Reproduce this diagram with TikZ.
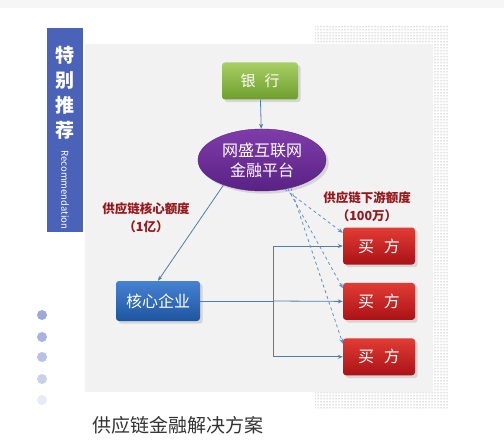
\documentclass[tikz,border=0pt]{standalone}
\usepackage{fontspec}
\setmainfont{Noto Sans CJK SC}
\usetikzlibrary{shapes.geometric, arrows.meta, positioning, patterns, shadows}
\definecolor{tagblue}{RGB}{74, 99, 184}
\definecolor{panelgray}{RGB}{242, 242, 242}
\definecolor{linkblue}{RGB}{79, 127, 168}
\definecolor{dashblue}{RGB}{100, 145, 196}
\definecolor{quotared}{RGB}{150, 24, 28}
\definecolor{banktop}{RGB}{168, 207, 100}
\definecolor{bankbot}{RGB}{110, 158, 46}
\definecolor{plattop}{RGB}{128, 60, 170}
\definecolor{platbot}{RGB}{88, 34, 132}
\definecolor{coretop}{RGB}{70, 130, 210}
\definecolor{corebot}{RGB}{30, 85, 160}
\definecolor{buyertop}{RGB}{226, 60, 52}
\definecolor{buyerbot}{RGB}{170, 18, 22}

\begin{document}
\begin{tikzpicture}[x=1pt, y=-1pt,
    every node/.style={font=\fontsize{15}{19}\selectfont, text=white},
    bankbox/.style={rectangle, rounded corners=3pt, top color=banktop, bottom color=bankbot,
                    minimum width=76pt, minimum height=37pt, drop shadow={opacity=0.25}},
    platform/.style={ellipse, top color=plattop, bottom color=platbot, draw=platbot,
                     minimum width=128pt, minimum height=62pt, align=center, inner sep=0pt,
                     font=\fontsize{16}{20}\selectfont, drop shadow={opacity=0.25}},
    corebox/.style={rectangle, rounded corners=3pt, top color=coretop, bottom color=corebot,
                    minimum width=84pt, minimum height=40pt, font=\fontsize{16}{20}\selectfont, drop shadow={opacity=0.25}},
    buyer/.style={rectangle, rounded corners=3pt, top color=buyertop, bottom color=buyerbot,
                  minimum width=72pt, minimum height=37pt, font=\fontsize{16}{20}\selectfont, drop shadow={opacity=0.25}},
    quota/.style={font=\bfseries\fontsize{12.5}{18}\selectfont, text=quotared, align=center},
    arrow/.style={-{Stealth[length=5pt, width=4pt]}, linkblue, thick},
    dasharrow/.style={-{Stealth[length=5pt, width=4pt]}, dashblue, thick, dashed},
    pagedot/.style={circle, minimum size=10pt, inner sep=0pt}
]
    \useasboundingbox (0,0) rectangle (504,444);
    \fill[white] (0,0) rectangle (504,444);
    \fill[panelgray!70!white] (0,0) rectangle (504,8);
    % dotted backdrop and panel
    \fill[pattern=dots, pattern color=gray] (315,25) rectangle (448,408);
    \fill[panelgray] (85,44) rectangle (433,392);
    % side tag
    \fill[tagblue] (47,28) rectangle (83,232);
    \node[font=\bfseries\fontsize{19}{25}\selectfont, align=center] (tag) at (65,93) {特\\别\\推\\荐};
    \node[font=\fontsize{9.5}{10}\selectfont, rotate=-90] (tagsub) at (65,190) {Recommendation};
    % nodes
    \node[bankbox] (bank) at (260,81) {银\hspace{0.6em}行};
    \node[platform] (plat) at (262,160) {网盛互联网\\金融平台};
    \node[corebox] (core) at (158,301) {核心企业};
    \node[buyer] (b1) at (379,246) {买\hspace{0.6em}方};
    \node[buyer, below=18pt of b1] (b2) {买\hspace{0.6em}方};
    \node[buyer, below=18pt of b2] (b3) {买\hspace{0.6em}方};
    \node[quota] (q1) at (146,218) {供应链核心额度\\（1亿）};
    \node[quota] (q2) at (367,207) {供应链下游额度\\（100万）};
    % connectors
    \coordinate (split) at (273,301);
    \draw[arrow] (bank) -- (plat);
    \draw[arrow] (plat.213) -- (core.north);
    \draw[linkblue, thick] (core.east) -- (split);
    \draw[arrow] (split) |- (b1.west);
    \draw[arrow] (split) -- (b2.west);
    \draw[arrow] (split) |- (b3.west);
    \draw[dasharrow] (plat.-52) -- (b1.160);
    \draw[dasharrow] (plat.-48) -- (b2.160);
    \draw[dasharrow] (plat.-44) -- (b3.160);
    % page dots
    \foreach \y/\c in {315/55, 337/48, 357/40, 379/30, 400/12}
        \node[pagedot, fill=tagblue!\c!white] (dot\y) at (42,\y) {};
    \node[font=\fontsize{19}{22}\selectfont, text=black!80] (caption) at (178,425) {供应链金融解决方案};
\end{tikzpicture}
\end{document}
